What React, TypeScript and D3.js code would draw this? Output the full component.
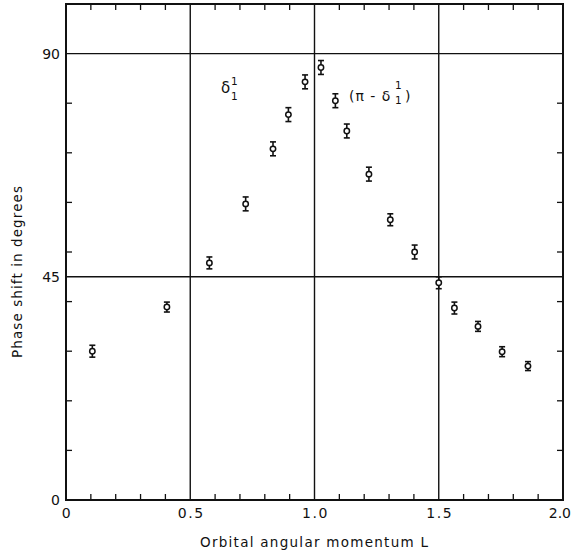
import React from "react";
import * as d3 from "d3";

const angularMomentum = [0.106, 0.406, 0.577, 0.723, 0.833, 0.895, 0.962, 1.026, 1.084, 1.13, 1.219, 1.305, 1.403, 1.5, 1.563, 1.658, 1.755, 1.859];
const phaseShift = [30.0, 38.9, 47.8, 59.7, 70.8, 77.7, 84.3, 87.2, 80.5, 74.4, 65.7, 56.5, 50.0, 43.8, 38.7, 35.0, 29.9, 27.0];
const phaseError = [1.2, 1.0, 1.2, 1.4, 1.4, 1.4, 1.4, 1.4, 1.4, 1.4, 1.4, 1.2, 1.4, 1.2, 1.2, 1.0, 1.0, 0.9];

const xTickLabels = ["0", "0.5", "1.0", "1.5", "2.0"];
const xTickValues = [0, 0.5, 1.0, 1.5, 2.0];
const yTickLabels = ["0", "45", "90"];
const yTickValues = [0, 45, 90];
const xGrid = [0.5, 1.0, 1.5];
const yGrid = [45, 90];
const xMinor = d3.range(1, 20).map((i) => i / 10).filter((v) => Math.abs(v * 2 - Math.round(v * 2)) > 1e-6);
const yMinor = [10, 20, 30, 40, 50, 60, 70, 80];

const W = 572;
const H = 554;
const left = 66;
const right = 563;
const top = 4;
const bottom = 500;

export default function App() {
  const x = d3.scaleLinear().domain([0, 2]).range([left, right]);
  const y = d3.scaleLinear().domain([0, 100]).range([bottom, top]);
  const font = "'DejaVu Sans', sans-serif";
  const tick = 6;
  return (
    <svg width={W} height={H} style={{ position: "absolute", left: 0, top: 0, background: "#fff" }} fontFamily={font}>
      <rect x={0} y={0} width={W} height={H} fill="#fff" />
      {xGrid.map((v) => (
        <line key={"gx" + v} x1={x(v)} x2={x(v)} y1={y(0)} y2={y(100)} stroke="#111" strokeWidth={1.4} />
      ))}
      {yGrid.map((v) => (
        <line key={"gy" + v} x1={x(0)} x2={x(2)} y1={y(v)} y2={y(v)} stroke="#111" strokeWidth={1.4} />
      ))}
      {xMinor.map((v) => (
        <g key={"mx" + v}>
          <line x1={x(v)} x2={x(v)} y1={y(0)} y2={y(0) - tick} stroke="#111" strokeWidth={1.3} />
          <line x1={x(v)} x2={x(v)} y1={y(100)} y2={y(100) + tick} stroke="#111" strokeWidth={1.3} />
        </g>
      ))}
      {yMinor.map((v) => (
        <g key={"my" + v}>
          <line x1={x(0)} x2={x(0) + tick} y1={y(v)} y2={y(v)} stroke="#111" strokeWidth={1.3} />
          <line x1={x(2)} x2={x(2) - tick} y1={y(v)} y2={y(v)} stroke="#111" strokeWidth={1.3} />
        </g>
      ))}
      <rect x={x(0)} y={y(100)} width={x(2) - x(0)} height={y(0) - y(100)} fill="none" stroke="#111" strokeWidth={2} />
      {xTickValues.map((v, i) => {
        const last = i === xTickValues.length - 1;
        return (
          <text
            key={"xl" + v}
            x={last ? 571 : x(v) + 1}
            y={518}
            textAnchor={last ? "end" : "middle"}
            fontSize={14}
            letterSpacing={last ? 0 : 1.5}
            fill="#111"
          >
            {xTickLabels[i]}
          </text>
        );
      })}
      {yTickValues.map((v, i) => (
        <text key={"yl" + v} x={60} y={y(v) + 5} textAnchor="end" fontSize={14} fill="#111">
          {yTickLabels[i]}
        </text>
      ))}
      <text x={314} y={547} textAnchor="middle" fontSize={13.5} textLength={228} lengthAdjust="spacing" fill="#111">
        Orbital angular momentum L
      </text>
      <text transform="translate(22,272) rotate(-90)" textAnchor="middle" fontSize={13.5} textLength={172} lengthAdjust="spacing" fill="#111">
        Phase shift in degrees
      </text>
      {angularMomentum.map((l, i) => {
        const cx = x(l);
        const cy = y(phaseShift[i]);
        const y1 = y(phaseShift[i] + phaseError[i]);
        const y2 = y(phaseShift[i] - phaseError[i]);
        return (
          <g key={"p" + i} stroke="#111">
            <line x1={cx} x2={cx} y1={y1} y2={y2} strokeWidth={1.6} />
            <line x1={cx - 3} x2={cx + 3} y1={y1} y2={y1} strokeWidth={1.6} />
            <line x1={cx - 3} x2={cx + 3} y1={y2} y2={y2} strokeWidth={1.6} />
            <circle cx={cx} cy={cy} r={2.7} fill="#fff" strokeWidth={1.5} />
          </g>
        );
      })}
      <g fill="#111">
        <text x={221} y={93} fontSize={15}>δ</text>
        <text x={231} y={85} fontSize={10.5}>1</text>
        <text x={231} y={100} fontSize={10.5}>1</text>
      </g>
      <g fill="#111">
        <text x={349} y={101} fontSize={14} letterSpacing={1}>(π - δ</text>
        <text x={395} y={89} fontSize={10.5}>1</text>
        <text x={395} y={104} fontSize={10.5}>1</text>
        <text x={405} y={101} fontSize={14}>)</text>
      </g>
    </svg>
  );
}
